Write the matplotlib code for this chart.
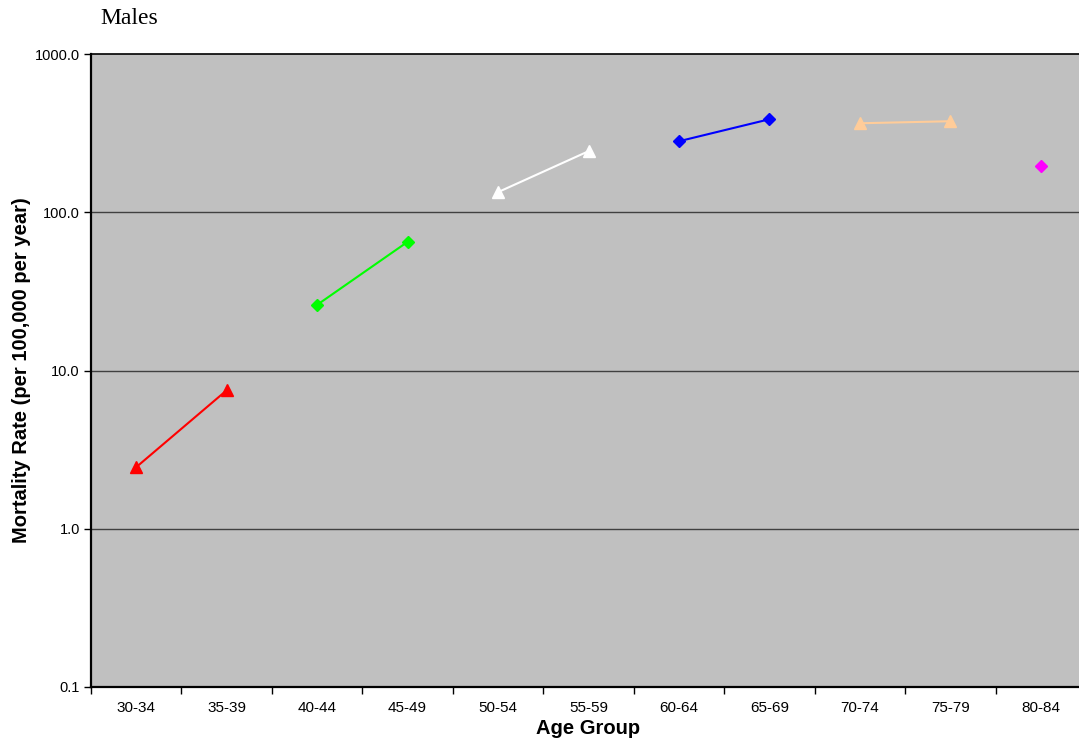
import numpy as np
import matplotlib
matplotlib.use('Agg')
import matplotlib.pyplot as plt
from matplotlib.ticker import FixedLocator, NullLocator

age_groups = ['30-34', '35-39', '40-44', '45-49', '50-54', '55-59',
              '60-64', '65-69', '70-74', '75-79', '80-84']

# each series: (category indices, rates, colour, marker)
red_idx = [0, 1]
red_vals = [2.45, 7.5]
green_idx = [2, 3]
green_vals = [26.0, 65.0]
white_idx = [4, 5]
white_vals = [134.0, 243.0]
blue_idx = [6, 7]
blue_vals = [281.0, 387.0]
tan_idx = [8, 9]
tan_vals = [365.0, 376.0]
magenta_idx = [10]
magenta_vals = [195.0]

series = [
    (red_idx, red_vals, '#FF0000', '^', 9),
    (green_idx, green_vals, '#00FF00', 'D', 6),
    (white_idx, white_vals, '#FFFFFF', '^', 9),
    (blue_idx, blue_vals, '#0000FF', 'D', 6),
    (tan_idx, tan_vals, '#FFCC99', '^', 9),
    (magenta_idx, magenta_vals, '#FF00FF', 'D', 6),
]

plt.rcParams['font.family'] = ['Liberation Sans', 'DejaVu Sans']

fig = plt.figure(figsize=(10.79, 7.46), dpi=100)
ax = fig.add_axes([91 / 1079, 1 - 687 / 746, 995 / 1079, 633 / 746])
ax.set_facecolor('#C0C0C0')

for idx, vals, col, mk, ms in series:
    ax.plot(idx, vals, color=col, marker=mk, markersize=ms, linewidth=1.5,
            markeredgecolor=col, zorder=3)

ax.set_yscale('log')
ax.set_ylim(0.1, 1000)
ax.set_xlim(-0.5, 10.5)

yt = [0.1, 1, 10, 100, 1000]
ax.yaxis.set_major_locator(FixedLocator(yt))
ax.yaxis.set_minor_locator(NullLocator())
ax.set_yticklabels(['%.1f' % v for v in yt], fontsize=10.5)
for v in [1, 10, 100]:
    ax.axhline(v, color='#404040', linewidth=1, zorder=1)

ax.set_xticks(np.arange(len(age_groups)))
ax.set_xticklabels(age_groups, fontsize=11)
ax.xaxis.set_minor_locator(FixedLocator(np.arange(-0.5, 11, 1)))
ax.tick_params(axis='x', which='major', length=0, pad=10)
ax.tick_params(axis='x', which='minor', length=5, width=1, direction='out')
ax.tick_params(axis='y', length=5, width=1, direction='out', pad=3)

for s in ['left', 'bottom', 'top']:
    ax.spines[s].set_color('black')
ax.spines['left'].set_linewidth(1.6)
ax.spines['bottom'].set_linewidth(1.6)
ax.spines['top'].set_linewidth(1.2)
ax.spines['right'].set_visible(False)

ax.set_xlabel('Age Group', fontsize=14.5, fontweight='bold', labelpad=3)
ax.set_ylabel('Mortality Rate (per 100,000 per year)', fontsize=14.5,
              fontweight='bold', labelpad=3)

fig.text(100 / 1079, 1 - 18 / 746, 'Males', fontsize=17,
         family='Liberation Serif', va='center', ha='left')

fig.savefig('out.png', dpi=100)
